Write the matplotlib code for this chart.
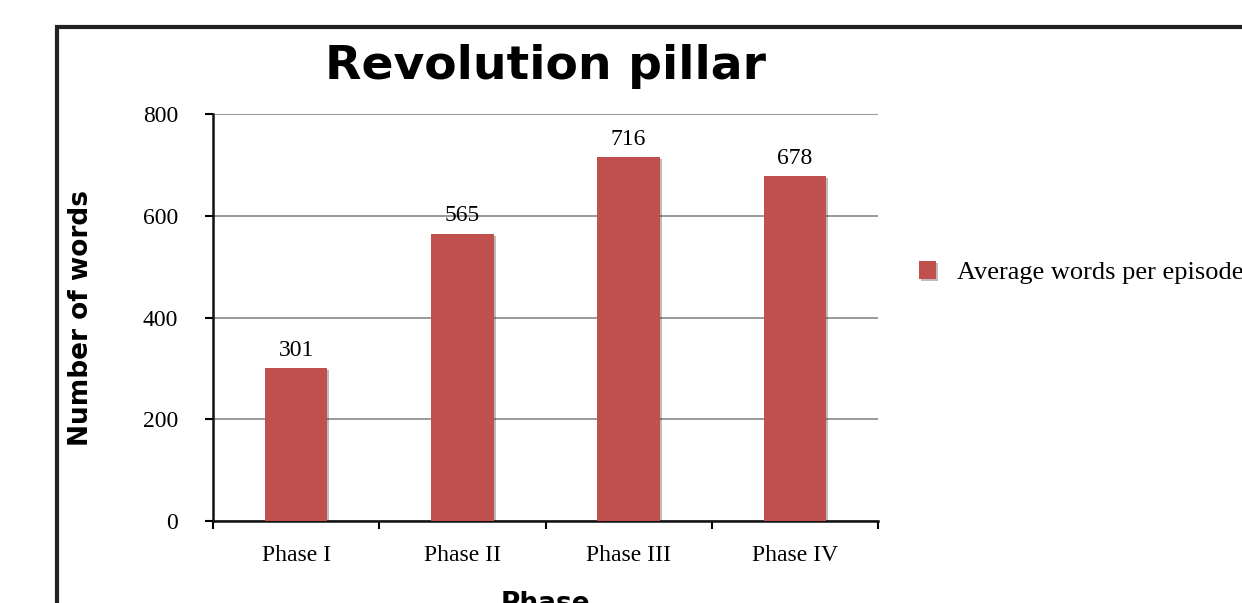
import matplotlib
matplotlib.use("Agg")
import matplotlib.pyplot as plt
import matplotlib.patheffects as pe
from matplotlib.patches import Rectangle

# ---------------------- data ----------------------
phases = ["Phase I", "Phase II", "Phase III", "Phase IV"]
avg_words = [301, 565, 716, 678]
y_ticks = [0, 200, 400, 600, 800]
series_name = "Average words per episode"

bar_color = "#C0504D"
serif = ["Liberation Serif", "DejaVu Serif"]

fig = plt.figure(figsize=(12.42, 6.03), dpi=100)

# outer chart frame (runs off right and bottom edges, as in the original crop)
fig.patches.append(Rectangle((57 / 1242, -0.1), 1.2, 1 - 27 / 603 + 0.1,
                             transform=fig.transFigure, fill=False,
                             edgecolor="#222222", linewidth=3, zorder=0))

ax = fig.add_axes([213 / 1242, 1 - 521 / 603, (878 - 213) / 1242, (521 - 114) / 603])

x = list(range(len(phases)))
bars = ax.bar(x, avg_words, width=0.375, color=bar_color, zorder=3,
              label=series_name)
for b in bars:
    b.set_path_effects([pe.SimplePatchShadow(offset=(1.5, -1.5), alpha=0.3), pe.Normal()])

# value labels above bars
for xi, v in zip(x, avg_words):
    ax.text(xi, v + 14, str(v), ha="center", va="bottom", fontsize=17, family=serif)

ax.set_xlim(-0.5, len(phases) - 0.5)
ax.set_ylim(0, 800)
ax.set_yticks(y_ticks)
ax.set_yticklabels([str(t) for t in y_ticks], fontsize=17, family=serif)
ax.set_xticks(x)
ax.set_xticklabels(phases, fontsize=17, family=serif)
ax.set_xticks([i - 0.5 for i in range(len(phases) + 1)], minor=True)
ax.tick_params(axis="x", which="major", length=0, pad=17)
ax.tick_params(axis="x", which="minor", length=6, width=1.5, direction="out")
ax.tick_params(axis="y", length=6, width=1.5, direction="out", pad=19)

ax.yaxis.grid(True, color="#888888", linewidth=1.2, zorder=0)
ax.set_axisbelow(True)
for s in ["top", "right"]:
    ax.spines[s].set_visible(False)
for s in ["left", "bottom"]:
    ax.spines[s].set_linewidth(1.8)
    ax.spines[s].set_color("#111111")

ax.set_title("Revolution pillar", fontsize=34, fontweight="bold", pad=25)
ax.set_ylabel("Number of words", fontsize=19, fontweight="bold", labelpad=35)
ax.set_xlabel("Phase", fontsize=19, fontweight="bold", labelpad=18)

leg = ax.legend(loc="center left", bbox_to_anchor=(1.026, 0.61), frameon=False,
                prop={"family": serif, "size": 19}, handlelength=0.65,
                handleheight=0.65, handletextpad=0.8)

fig.savefig("out.png", dpi=100)
